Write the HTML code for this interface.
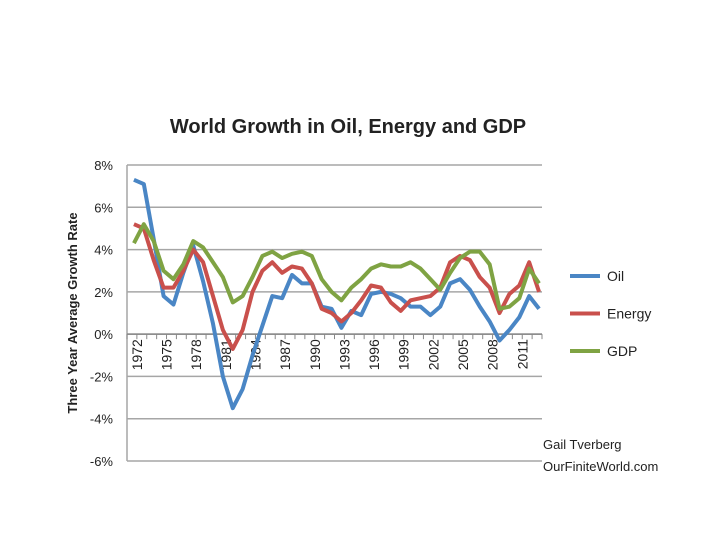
<!DOCTYPE html>
<html><head><meta charset="utf-8"><style>
body{margin:0;background:#fff;width:720px;height:540px;overflow:hidden;font-family:"Liberation Sans",sans-serif}
</style></head><body>
<svg id="c" width="720" height="540" font-family="Liberation Sans, sans-serif">
<text x="348" y="133" text-anchor="middle" font-size="20" font-weight="bold" fill="#222">World Growth in Oil, Energy and GDP</text>
<text transform="translate(77,313) rotate(-90)" text-anchor="middle" font-size="13" font-weight="bold" fill="#222">Three Year Average Growth Rate</text>
<g id="grid"></g><g id="series"></g>
<text x="543" y="449" font-size="13" fill="#222">Gail Tverberg</text>
<text x="543" y="471" font-size="13" fill="#222">OurFiniteWorld.com</text>
</svg>
<script>
const years=[];for(let y=1972;y<=2013;y++)years.push(y);
const yTicks=[8,6,4,2,0,-2,-4,-6];
const seriesNames=["Oil","Energy","GDP"];
const oil=[7.3,7.1,4.5,1.8,1.4,2.9,4.2,2.5,0.5,-2.0,-3.5,-2.6,-1.0,0.4,1.8,1.7,2.8,2.4,2.4,1.3,1.2,0.3,1.1,0.9,1.9,2.0,1.9,1.7,1.3,1.3,0.9,1.3,2.4,2.6,2.1,1.3,0.6,-0.3,0.2,0.8,1.8,1.2];
const energy=[5.2,5.0,3.5,2.2,2.2,3.0,4.0,3.4,1.8,0.2,-0.7,0.2,2.0,3.0,3.4,2.9,3.2,3.1,2.4,1.2,1.0,0.6,1.0,1.6,2.3,2.2,1.5,1.1,1.6,1.7,1.8,2.2,3.4,3.7,3.5,2.7,2.2,1.0,1.9,2.3,3.4,2.0];
const gdp=[4.3,5.2,4.4,3.0,2.6,3.3,4.4,4.1,3.4,2.7,1.5,1.8,2.7,3.7,3.9,3.6,3.8,3.9,3.7,2.6,2.0,1.6,2.2,2.6,3.1,3.3,3.2,3.2,3.4,3.1,2.6,2.1,2.9,3.6,3.9,3.9,3.3,1.2,1.3,1.7,3.1,2.4];
const colors=["#4a86c5","#c9504c","#7fa343"];
const L=127,R=542,T=165,B=461,NS="http://www.w3.org/2000/svg";
const bw=(R-L)/years.length;
const xs=i=>L+(i+0.5)*bw+2;
const ys=v=>T+(8-v)/14*(B-T);
function mk(t,a,p){const e=document.createElementNS(NS,t);for(const k in a)e.setAttribute(k,a[k]);p.appendChild(e);return e;}
const g=document.getElementById('grid'),s=document.getElementById('series');
yTicks.forEach(v=>{
 const l=mk('line',{x1:L,x2:R,y1:ys(v),y2:ys(v),stroke:'#a6a6a6','stroke-width':1.5},g);
 
 
 const t=mk('text',{x:113,y:ys(v)+5,'text-anchor':'end','font-size':13,fill:'#222'},g);
 t.textContent=v+'%';
 
 
});
const ax=mk('line',{x1:L,x2:L,y1:T,y2:B,stroke:'#a6a6a6','stroke-width':1.5},g);


const y0=ys(0);
const xa=mk('line',{x1:L,x2:R,y1:y0,y2:y0,stroke:'#888','stroke-width':1.5},g);


for(let i=0;i<=years.length;i++){const tk=mk('line',{x1:L+i*bw,x2:L+i*bw,y1:y0,y2:y0+5,stroke:'#888'},g);
 
 }
years.forEach((yr,i)=>{if((yr-1972)%3)return;
 const t=mk('text',{transform:`translate(${xs(i)+8},${y0+5}) rotate(-90)`,'text-anchor':'end','font-size':14,fill:'#222'},g);
 t.textContent=yr;
 
 
});
[oil,energy,gdp].forEach((arr,k)=>{
 const p=mk('polyline',{points:arr.map((v,i)=>xs(i)+','+ys(v)).join(' '),fill:'none',stroke:colors[k],'stroke-width':4,'stroke-linejoin':'round'},s);
 
 
 const ly=276+k*37.5;
 const ll=mk('line',{x1:570,x2:600,y1:ly,y2:ly,stroke:colors[k],'stroke-width':4},s);
 
 
 const lt=mk('text',{x:607,y:ly+5,'font-size':14,fill:'#222'},s);
 lt.textContent=seriesNames[k];
 
 
});
</script>
</body></html>
